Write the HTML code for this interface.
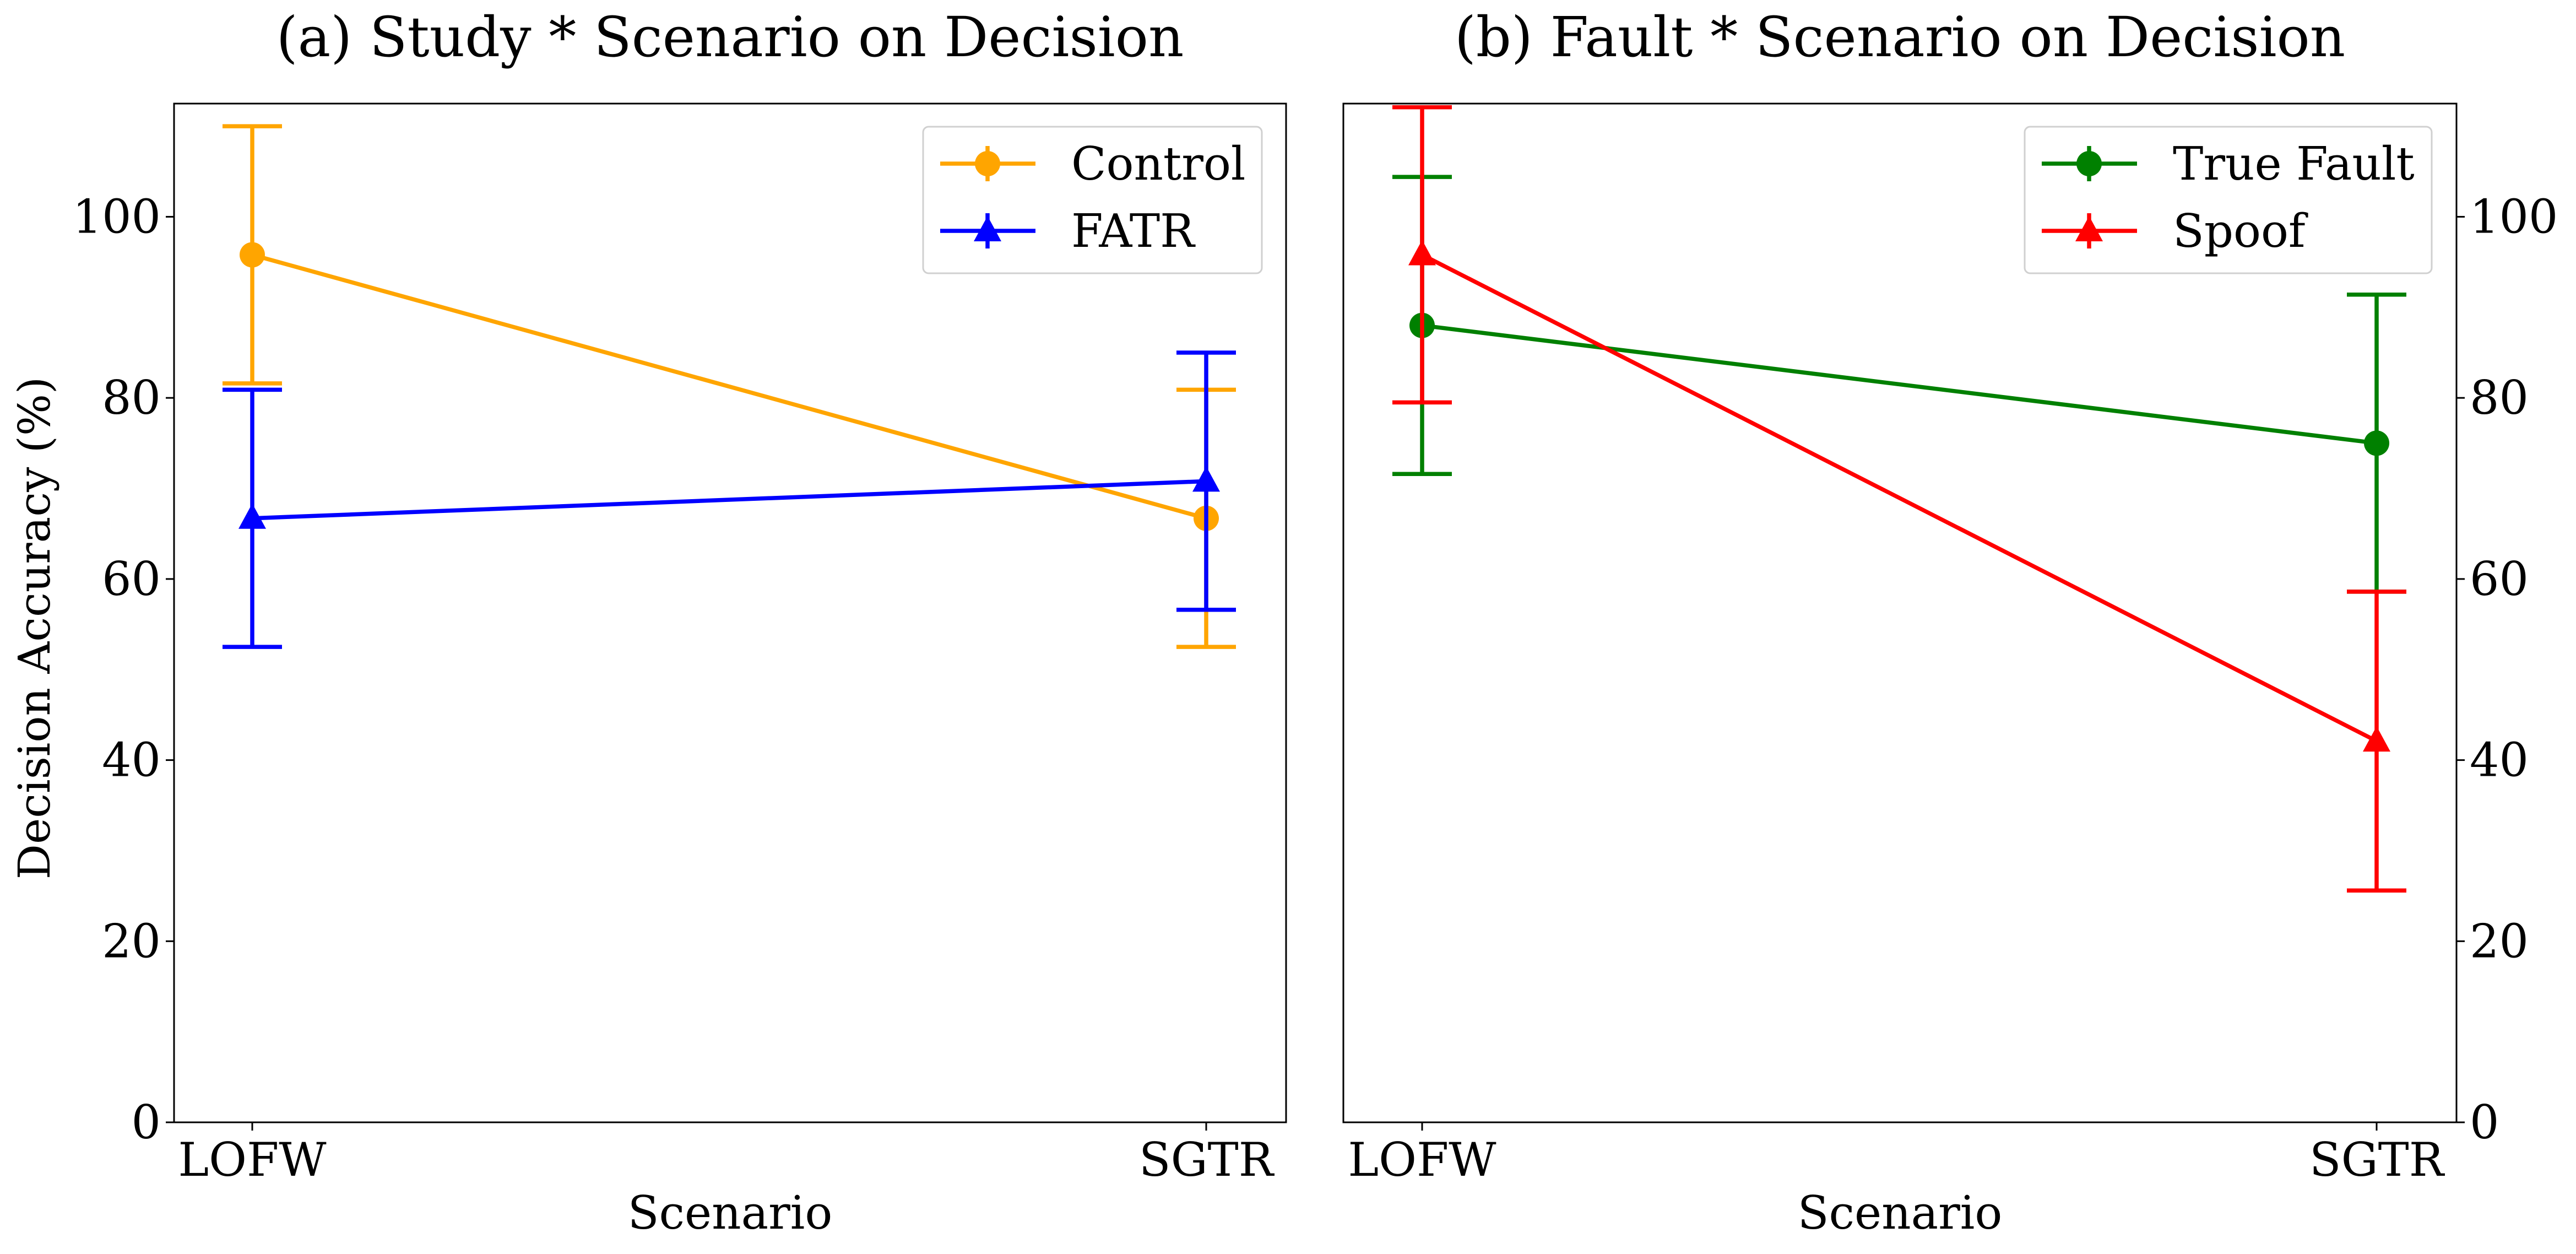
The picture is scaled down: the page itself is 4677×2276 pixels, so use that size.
<!DOCTYPE html>
<html><head><meta charset="utf-8"><style>
html,body{margin:0;padding:0;background:#fff;}
svg{display:block;font-family:"DejaVu Serif","Liberation Serif",serif;}
</style></head><body>
<svg id="chart" width="4677" height="2276" viewBox="0 0 4677 2276" xmlns="http://www.w3.org/2000/svg"></svg>
<script>
const categories = ["LOFW", "SGTR"];
const yTicks = [0, 20, 40, 60, 80, 100];
const controlVals = [95.8, 66.7];
const controlErr = [14.2, 14.2];
const fatrVals = [66.7, 70.8];
const fatrErr = [14.2, 14.2];
const trueFaultVals = [88.0, 75.0];
const trueFaultErr = [16.4, 16.4];
const spoofVals = [95.8, 42.1];
const spoofErr = [16.3, 16.5];

const NS = "http://www.w3.org/2000/svg";
const svg = document.getElementById("chart");
function mk(tag, attrs, parent, text) {
  const e = document.createElementNS(NS, tag);
  for (const k in attrs) e.setAttribute(k, attrs[k]);
  if (text !== undefined) e.textContent = text;
  (parent || svg).appendChild(e);
  return e;
}
const Y0 = 2037, YTOP = 188, YMAX = 112.5;
const SW = 7.5;
function yS(v) { return Y0 - (v / YMAX) * (Y0 - YTOP); }

function panel(opt) {
  const g = mk("g", {});
  
  
  const xS = i => opt.xl + (opt.xr - opt.xl) * i;
  const clipId = opt.name + "-clip";
  const cp = mk("clipPath", {id: clipId}, g);
  mk("rect", {x: opt.x0, y: YTOP, width: opt.x1 - opt.x0, height: Y0 - YTOP}, cp);
  const t = mk("text", {x: (opt.x0 + opt.x1) / 2, y: 102, "font-size": 100, "text-anchor": "middle"}, g, opt.title);
  
  
  opt.series.forEach(s => {
    const sg = mk("g", {"clip-path": "url(#" + clipId + ")"}, g);
    
    
    const pts = s.vals.map((v, i) => xS(i) + "," + yS(v)).join(" ");
    const ln = mk("polyline", {points: pts, fill: "none", stroke: s.color, "stroke-width": SW}, sg);
    
    
    s.vals.forEach((v, i) => {
      const x = xS(i), e = s.err[i];
      const eb = mk("g", {stroke: s.color, "stroke-width": SW}, sg);
      
      
      mk("line", {x1: x, x2: x, y1: yS(v - e), y2: yS(v + e)}, eb);
      mk("line", {x1: x - 54, x2: x + 54, y1: yS(v - e), y2: yS(v - e)}, eb);
      mk("line", {x1: x - 54, x2: x + 54, y1: yS(v + e), y2: yS(v + e)}, eb);
      let m;
      if (s.marker === "circle") m = mk("circle", {cx: x, cy: yS(v), r: 23, fill: s.color}, sg);
      else { const y = yS(v); m = mk("polygon", {points: `${x},${y-27} ${x-25},${y+19} ${x+25},${y+19}`, fill: s.color}, sg); }
      
      
    });
  });
  const fr = mk("rect", {x: opt.x0, y: YTOP, width: opt.x1 - opt.x0, height: Y0 - YTOP, fill: "none", stroke: "#000", "stroke-width": 3}, g);
  
  
  const ya = mk("g", {}, g);
  
  
  yTicks.forEach(v => {
    const y = yS(v);
    if (opt.right) {
      mk("line", {x1: opt.x1, x2: opt.x1 + 15, y1: y, y2: y, stroke: "#000", "stroke-width": 3}, ya);
      mk("text", {x: opt.x1 + 24, y: y + 29, "font-size": 84, "text-anchor": "start"}, ya, v);
    } else {
      mk("line", {x1: opt.x0 - 15, x2: opt.x0, y1: y, y2: y, stroke: "#000", "stroke-width": 3}, ya);
      mk("text", {x: opt.x0 - 24, y: y + 29, "font-size": 84, "text-anchor": "end"}, ya, v);
    }
  });
  const xa = mk("g", {}, g);
  
  
  categories.forEach((c, i) => {
    const x = xS(i);
    mk("line", {x1: x, x2: x, y1: Y0, y2: Y0 + 15, stroke: "#000", "stroke-width": 3}, xa);
    mk("text", {x: x, y: Y0 + 97, "font-size": 84, "text-anchor": "middle"}, xa, c);
  });
  const xt = mk("text", {x: (opt.x0 + opt.x1) / 2, y: 2230, "font-size": 83, "text-anchor": "middle"}, g, "Scenario");
  
  
  const lg = mk("g", {}, g);
  
  
  mk("rect", {x: opt.lx, y: 230, width: opt.lw, height: 266, rx: 10, fill: "#fff", stroke: "#ccc", "stroke-width": 3, opacity: 0.9}, lg);
  opt.series.forEach((s, k) => {
    const ey = 297 + k * 122;
    const le = mk("g", {}, lg);
    
    
    const lx = opt.lx + 31;
    mk("line", {x1: lx, x2: lx + 173, y1: ey, y2: ey, stroke: s.color, "stroke-width": SW}, le);
    mk("line", {x1: lx + 86, x2: lx + 86, y1: ey - 32, y2: ey + 32, stroke: s.color, "stroke-width": SW}, le);
    if (s.marker === "circle") mk("circle", {cx: lx + 86, cy: ey, r: 23, fill: s.color}, le);
    else mk("polygon", {points: `${lx+86},${ey-27} ${lx+61},${ey+19} ${lx+111},${ey+19}`, fill: s.color}, le);
    mk("text", {x: lx + 238, y: ey + 29, "font-size": 83}, le, s.label);
  });
}

panel({name: "panel-a", title: "(a) Study * Scenario on Decision", x0: 316, x1: 2335, xl: 458, xr: 2190, right: false,
  lx: 1676, lw: 615,
  series: [
    {key: "control", label: "Control", color: "#FFA500", marker: "circle", vals: controlVals, err: controlErr},
    {key: "fatr", label: "FATR", color: "#0000FF", marker: "tri", vals: fatrVals, err: fatrErr}
  ]});
panel({name: "panel-b", title: "(b) Fault * Scenario on Decision", x0: 2439, x1: 4460, xl: 2582, xr: 4315, right: true,
  lx: 3676, lw: 739,
  series: [
    {key: "true-fault", label: "True Fault", color: "#008000", marker: "circle", vals: trueFaultVals, err: trueFaultErr},
    {key: "spoof", label: "Spoof", color: "#FF0000", marker: "tri", vals: spoofVals, err: spoofErr}
  ]});
const yl = mk("text", {x: 0, y: 0, "font-size": 80, "text-anchor": "middle", transform: "translate(90,1140) rotate(-90)"}, svg, "Decision Accuracy (%)");


</script>
</body></html>
